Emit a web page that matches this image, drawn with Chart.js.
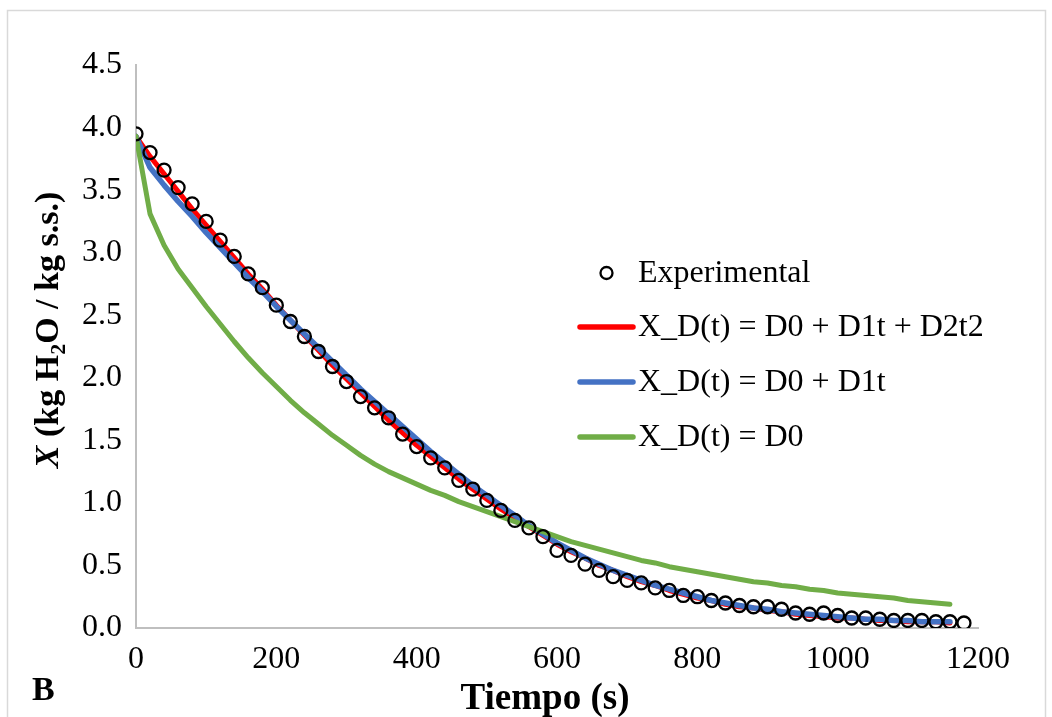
<!DOCTYPE html>
<html>
<head>
<meta charset="utf-8">
<script src="https://cdn.jsdelivr.net/npm/chart.js@4/dist/chart.umd.min.js"></script>
<style>
  html, body { margin: 0; padding: 0; background: #ffffff; }
  #wrap { width: 1052px; height: 717px; position: relative; }
  canvas { display: block; }
</style>
</head>
<body>
<div id="wrap"><canvas id="c" width="1052" height="717"></canvas></div>
<script>
// ---- Data ----
const expTime = [0,20,40,60,80,100,120,140,160,180,200,220,240,260,280,300,320,340,360,380,400,420,440,460,480,500,520,540,560,580,600,620,640,660,680,700,720,740,760,780,800,820,840,860,880,900,920,940,960,980,1000,1020,1040,1060,1080,1100,1120,1140,1160,1180];
const expX = [3.95,3.80,3.66,3.52,3.39,3.25,3.10,2.97,2.83,2.72,2.58,2.45,2.33,2.21,2.09,1.97,1.85,1.76,1.68,1.55,1.45,1.36,1.28,1.18,1.11,1.02,0.94,0.86,0.80,0.73,0.62,0.58,0.51,0.46,0.41,0.38,0.36,0.32,0.30,0.26,0.25,0.22,0.20,0.18,0.17,0.17,0.15,0.12,0.11,0.12,0.10,0.08,0.08,0.07,0.06,0.06,0.06,0.05,0.05,0.04];

const modelTime = [0,20,40,60,80,100,120,140,160,180,200,220,240,260,280,300,320,340,360,380,400,420,440,460,480,500,520,540,560,580,600,620,640,660,680,700,720,740,760,780,800,820,840,860,880,900,920,940,960,980,1000,1020,1040,1060,1080,1100,1120,1140,1160];
const xD2 = [3.93,3.77,3.63,3.49,3.35,3.22,3.09,2.96,2.83,2.71,2.58,2.46,2.34,2.22,2.10,1.99,1.88,1.77,1.66,1.56,1.46,1.37,1.28,1.19,1.11,1.03,0.95,0.88,0.81,0.74,0.67,0.61,0.56,0.50,0.46,0.41,0.37,0.34,0.30,0.27,0.24,0.22,0.19,0.17,0.16,0.14,0.13,0.11,0.10,0.09,0.08,0.08,0.07,0.06,0.06,0.05,0.05,0.05,0.04];
const xD1 = [3.93,3.68,3.54,3.41,3.29,3.16,3.04,2.92,2.80,2.69,2.57,2.46,2.35,2.24,2.13,2.02,1.91,1.81,1.71,1.61,1.51,1.41,1.32,1.23,1.14,1.06,0.98,0.90,0.82,0.75,0.68,0.62,0.56,0.51,0.46,0.42,0.38,0.34,0.31,0.28,0.25,0.22,0.20,0.18,0.16,0.15,0.13,0.12,0.11,0.10,0.09,0.08,0.07,0.07,0.06,0.06,0.05,0.05,0.05];
const xD0 = [3.93,3.31,3.06,2.87,2.72,2.57,2.43,2.29,2.16,2.04,1.93,1.82,1.72,1.63,1.54,1.46,1.38,1.31,1.25,1.20,1.15,1.10,1.06,1.01,0.97,0.93,0.89,0.85,0.81,0.77,0.73,0.69,0.66,0.63,0.60,0.57,0.54,0.52,0.49,0.47,0.45,0.43,0.41,0.39,0.37,0.36,0.34,0.33,0.31,0.30,0.28,0.27,0.26,0.25,0.24,0.22,0.21,0.20,0.19];

const seriesLabels = ["Experimental", "X_D(t) = D0 + D1t + D2t2", "X_D(t) = D0 + D1t", "X_D(t) = D0"];
const seriesColors = ["#000000", "#ff0000", "#4472c4", "#70ad47"];
const xTickValues = [0, 200, 400, 600, 800, 1000, 1200];
const yTickValues = [0, 0.5, 1.0, 1.5, 2.0, 2.5, 3.0, 3.5, 4.0, 4.5];
const xTitle = "Tiempo (s)";
const panelLabel = "B";

// ---- Build datasets ----
function pairs(xs, ys) { return xs.map((x, i) => ({ x: x, y: ys[i] })); }

const FONT = "'Liberation Serif', 'Times New Roman', serif";

function lineSet(i, ys, width, order) {
  return { label: seriesLabels[i], data: pairs(modelTime, ys), showLine: true, pointRadius: 0,
    borderColor: seriesColors[i], borderWidth: width, borderCapStyle: 'round', borderJoinStyle: 'round',
    tension: 0, order: order };
}

const datasets = [
  { label: seriesLabels[0], data: pairs(expTime, expX), showLine: false,
    pointRadius: 6.5, pointHoverRadius: 6.5, pointBorderWidth: 2.3,
    pointBorderColor: seriesColors[0], pointBackgroundColor: 'rgba(0,0,0,0)', order: 0 },
  lineSet(1, xD2, 5, 3),
  lineSet(2, xD1, 5.5, 2),
  lineSet(3, xD0, 5, 1)
];

// ---- Decorations plugin: frame, axis titles, panel label, legend ----
const decor = {
  id: 'decor',
  beforeDraw(chart) {
    const ctx = chart.ctx;
    ctx.save();
    ctx.fillStyle = '#ffffff';
    ctx.fillRect(0, 0, chart.width, chart.height);
    ctx.strokeStyle = '#d9d9d9';
    ctx.lineWidth = 1.5;
    ctx.strokeRect(7.5, 10.5, 1038, 730);
    ctx.restore();
  },
  afterDraw(chart) {
    const ctx = chart.ctx;
    ctx.save();
    ctx.fillStyle = '#000000';
    // X axis title
    ctx.font = "bold 37px " + FONT;
    ctx.textAlign = 'center';
    ctx.textBaseline = 'alphabetic';
    ctx.fillText(xTitle, 545, 709);
    // Panel label
    ctx.font = "bold 34px " + FONT;
    ctx.textAlign = 'left';
    ctx.fillText(panelLabel, 32, 700);
    // Y axis title with italic X and subscript 2
    const segs = [
      { t: "X", f: "italic bold 34px " + FONT, dy: 0 },
      { t: " (kg H", f: "bold 34px " + FONT, dy: 0 },
      { t: "2", f: "bold 22px " + FONT, dy: 7 },
      { t: "O / kg s.s.)", f: "bold 34px " + FONT, dy: 0 }
    ];
    let total = 0;
    segs.forEach(s => { ctx.font = s.f; s.w = ctx.measureText(s.t).width; total += s.w; });
    ctx.translate(58, 330);
    ctx.rotate(-Math.PI / 2);
    let x = -total / 2;
    ctx.textAlign = 'left';
    segs.forEach(s => { ctx.font = s.f; ctx.fillText(s.t, x, s.dy); x += s.w; });
    ctx.restore();

    // Legend
    ctx.save();
    const rows = [273, 327, 382, 437];
    const symL = 580, symR = 633, textX = 638;
    chart.data.datasets.forEach((ds, i) => {
      const y = rows[i];
      if (i === 0) {
        ctx.beginPath();
        ctx.arc((symL + symR) / 2, y, 6, 0, Math.PI * 2);
        ctx.lineWidth = 2.3;
        ctx.strokeStyle = ds.pointBorderColor;
        ctx.stroke();
      } else {
        ctx.beginPath();
        ctx.moveTo(symL, y);
        ctx.lineTo(symR, y);
        ctx.lineWidth = 5.5;
        ctx.lineCap = 'round';
        ctx.strokeStyle = ds.borderColor;
        ctx.stroke();
      }
      ctx.fillStyle = '#000000';
      ctx.font = "32px " + FONT;
      ctx.textAlign = 'left';
      ctx.textBaseline = 'middle';
      ctx.fillText(ds.label, textX, y + 1);
    });
    ctx.restore();
  }
};

new Chart(document.getElementById('c'), {
  type: 'scatter',
  data: { datasets: datasets },
  options: {
    responsive: false,
    animation: false,
    devicePixelRatio: 1,
    layout: { padding: { left: 0, right: 74, top: 65, bottom: 0 } },
    plugins: {
      legend: { display: false },
      tooltip: { enabled: false },
      title: { display: false }
    },
    scales: {
      x: {
        type: 'linear', min: 0, max: 1200,
        afterBuildTicks(scale) { scale.ticks = xTickValues.map(v => ({ value: v })); },
        afterFit(scale) { scale.height = 89; },
        grid: { display: false, drawTicks: false },
        border: { display: true, color: '#bfbfbf', width: 2 },
        ticks: { color: '#000000', padding: 12, maxRotation: 0, autoSkip: false,
                 callback: v => String(v),
                 font: { family: FONT, size: 32 } }
      },
      y: {
        type: 'linear', min: 0, max: 4.5,
        afterBuildTicks(scale) { scale.ticks = yTickValues.map(v => ({ value: v })); },
        afterFit(scale) { scale.width = 136; },
        grid: { display: false, drawTicks: false },
        border: { display: true, color: '#bfbfbf', width: 2 },
        ticks: { color: '#000000', padding: 14, autoSkip: false,
                 callback: v => Number(v).toFixed(1),
                 font: { family: FONT, size: 32 } }
      }
    }
  },
  plugins: [decor]
});
</script>
</body>
</html>
